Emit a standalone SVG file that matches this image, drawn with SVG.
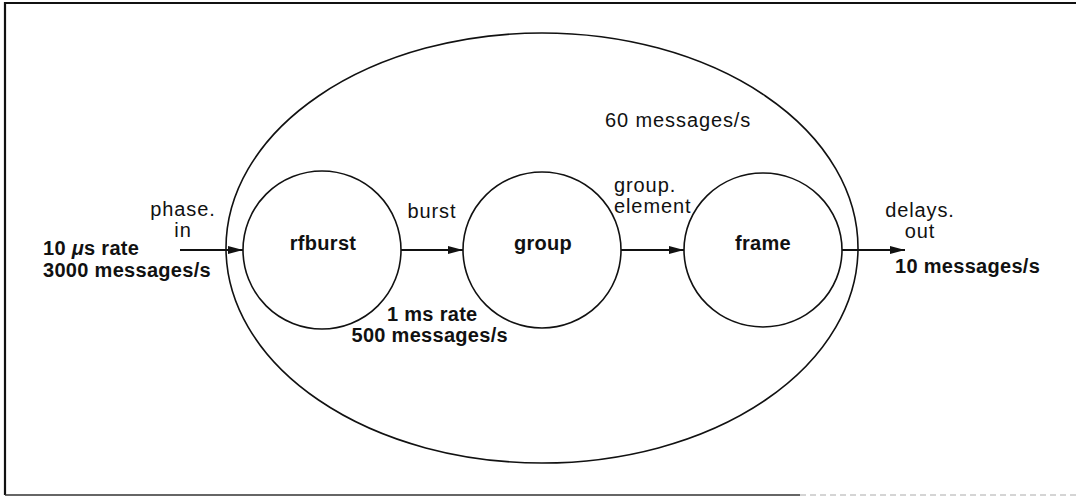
<svg xmlns="http://www.w3.org/2000/svg" width="1076" height="497" viewBox="0 0 1076 497">
<defs>
<style>
.ln{fill:none;stroke:#111;stroke-width:1.6}
.ar{fill:none;stroke:#111;stroke-width:2}
.r{font-family:"Liberation Sans",Arial,sans-serif;font-size:20px;letter-spacing:0.9px;fill:#111}
.b{font-family:"Liberation Sans",Arial,sans-serif;font-size:20px;font-weight:bold;letter-spacing:0.3px;fill:#111}
.m{text-anchor:middle}
.e{text-anchor:end}
</style>
<marker id="ah" markerUnits="userSpaceOnUse" markerWidth="16" markerHeight="8" refX="15" refY="4" orient="auto">
<path d="M0,0 L15,4 L0,8 z" fill="#111"/>
</marker>
</defs>
<rect width="1076" height="497" fill="#fff"/>
<g id="frame-border">
<path d="M5,495 V3 H1076" fill="none" stroke="#111" stroke-width="2.2"/>
<path d="M5,495 H800" fill="none" stroke="#333" stroke-width="1.6"/>
<path d="M800,495 H1076" fill="none" stroke="#aaa" stroke-width="1" stroke-dasharray="6 4"/>
</g>
<g id="outer">
<ellipse class="ln" cx="542" cy="248" rx="316" ry="215"/>
<text class="r" x="605" y="127">60 messages/s</text>
</g>
<g id="rfburst">
<ellipse class="ln" cx="322" cy="250" rx="79" ry="79"/>
<text class="b m" x="323" y="250">rfburst</text>
</g>
<g id="group">
<ellipse class="ln" cx="542" cy="250" rx="79" ry="78"/>
<text class="b m" x="543" y="250">group</text>
</g>
<g id="frame">
<ellipse class="ln" cx="763" cy="250" rx="79" ry="77"/>
<text class="b m" x="763" y="250">frame</text>
</g>
<g id="connectors">
<line class="ar" x1="180" y1="250" x2="243" y2="250" marker-end="url(#ah)"/>
<line class="ar" x1="401" y1="250" x2="463" y2="250" marker-end="url(#ah)"/>
<line class="ar" x1="621" y1="250" x2="684" y2="250" marker-end="url(#ah)"/>
<line class="ar" x1="842" y1="250" x2="905" y2="250" marker-end="url(#ah)"/>
</g>
<g id="labels">
<text class="r m" x="183" y="216">phase.</text>
<text class="r m" x="183" y="237">in</text>
<text class="b" x="43" y="255">10 <tspan font-style="italic">μ</tspan>s rate</text>
<text class="b" x="43" y="277">3000 messages/s</text>
<text class="r m" x="432" y="218">burst</text>
<text class="b" x="387" y="321">1 ms rate</text>
<text class="b e" x="508" y="342">500 messages/s</text>
<text class="r" x="614" y="192">group.</text>
<text class="r" x="614" y="213">element</text>
<text class="r m" x="920" y="217">delays.</text>
<text class="r m" x="920" y="238">out</text>
<text class="b" x="895" y="273">10 messages/s</text>
</g>
</svg>
